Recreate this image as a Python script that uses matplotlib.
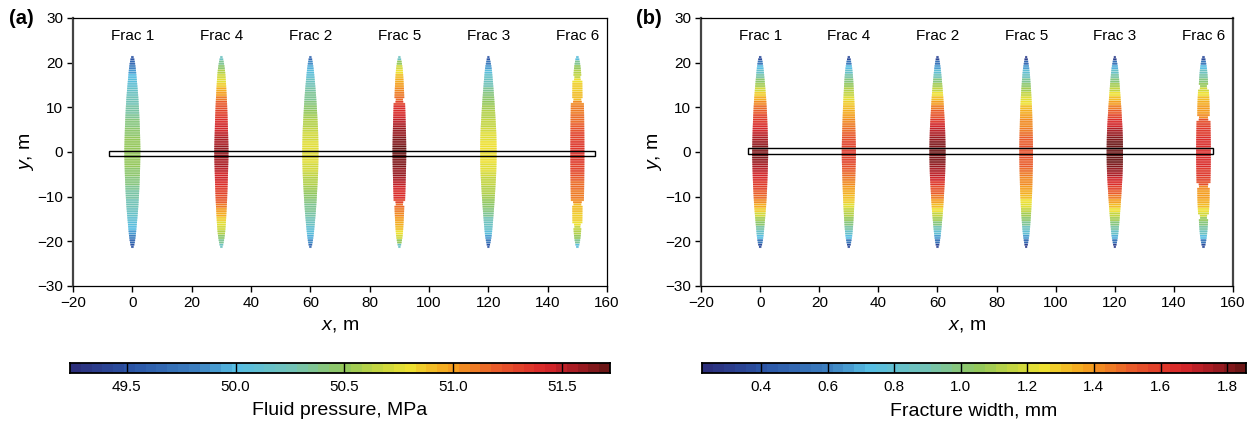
import numpy as np
import matplotlib
matplotlib.use("Agg")
import matplotlib.pyplot as plt
from matplotlib.colors import LinearSegmentedColormap, ListedColormap, Normalize
from matplotlib.patches import Rectangle

plt.rcParams['font.family'] = ['Liberation Sans', 'DejaVu Sans']
plt.rcParams['mathtext.fontset'] = 'custom'
plt.rcParams['mathtext.rm'] = 'Liberation Sans'
plt.rcParams['mathtext.it'] = 'Liberation Sans:italic'

# ---- data -------------------------------------------------------------
frac_names = ["Frac 1", "Frac 4", "Frac 2", "Frac 5", "Frac 3", "Frac 6"]
frac_x = [0, 30, 60, 90, 120, 150]
# distance from the wellbore (m); profiles are symmetric about y = 0
y_levels = list(range(22))

# fluid pressure along each fracture, MPa
pressure_f1 = [50.52, 50.52, 50.51, 50.49, 50.47, 50.45, 50.42, 50.39, 50.36, 50.33, 50.30,
               50.27, 50.24, 50.20, 50.16, 50.11, 50.06, 50.00, 49.92, 49.82, 49.67, 49.50]
pressure_f4 = [51.60, 51.58, 51.56, 51.53, 51.50, 51.47, 51.43, 51.39, 51.35, 51.30, 51.25,
               51.18, 51.10, 51.02, 50.94, 50.86, 50.77, 50.68, 50.58, 50.47, 50.35, 50.20]
pressure_f2 = [50.76, 50.75, 50.74, 50.72, 50.69, 50.66, 50.62, 50.58, 50.54, 50.50, 50.46,
               50.42, 50.38, 50.34, 50.30, 50.25, 50.19, 50.13, 50.06, 49.97, 49.84, 49.65]
pressure_f5 = [51.70, 51.69, 51.67, 51.64, 51.61, 51.58, 51.54, 51.50, 51.46, 51.42, 51.38,
               51.30, 51.15, 51.10, 51.06, 51.01, 50.95, 50.88, 50.80, 50.68, 50.50, 50.20]
pressure_f3 = [50.80, 50.80, 50.78, 50.76, 50.73, 50.70, 50.67, 50.64, 50.61, 50.58, 50.54,
               50.50, 50.45, 50.40, 50.34, 50.28, 50.21, 50.14, 50.05, 49.93, 49.76, 49.52]
pressure_f6 = [51.38, 51.37, 51.35, 51.32, 51.28, 51.24, 51.20, 51.17, 51.14, 51.11, 51.08,
               51.05, 50.92, 50.89, 50.86, 50.83, 50.80, 50.66, 50.60, 50.50, 50.35, 50.05]

# fracture aperture along each fracture, mm
width_f1 = [1.80, 1.80, 1.77, 1.75, 1.72, 1.69, 1.65, 1.61, 1.57, 1.52, 1.47,
            1.41, 1.35, 1.27, 1.19, 1.10, 1.01, 0.92, 0.83, 0.72, 0.58, 0.38]
width_f4 = [1.60, 1.59, 1.57, 1.54, 1.51, 1.48, 1.45, 1.42, 1.39, 1.35, 1.31,
            1.27, 1.22, 1.17, 1.11, 1.06, 1.00, 0.93, 0.84, 0.72, 0.56, 0.36]
width_f2 = [1.83, 1.82, 1.80, 1.78, 1.75, 1.72, 1.67, 1.62, 1.56, 1.50, 1.45,
            1.39, 1.32, 1.25, 1.17, 1.08, 0.99, 0.90, 0.80, 0.68, 0.54, 0.35]
width_f5 = [1.55, 1.54, 1.53, 1.51, 1.49, 1.46, 1.43, 1.41, 1.38, 1.35, 1.31,
            1.26, 1.21, 1.15, 1.09, 1.02, 0.95, 0.87, 0.78, 0.66, 0.50, 0.32]
width_f3 = [1.85, 1.84, 1.83, 1.81, 1.78, 1.74, 1.69, 1.63, 1.57, 1.51, 1.45,
            1.38, 1.31, 1.24, 1.16, 1.08, 1.00, 0.91, 0.82, 0.70, 0.52, 0.32]
width_f6 = [1.66, 1.66, 1.65, 1.64, 1.62, 1.60, 1.58, 1.56, 1.40, 1.39, 1.38,
            1.35, 1.31, 1.26, 1.20, 1.05, 1.00, 0.94, 0.85, 0.74, 0.58, 0.38]

# aperture of Frac 5 and Frac 6 at the pressure snapshot, mm
width_a_f5 = [1.55, 1.54, 1.53, 1.51, 1.49, 1.46, 1.43, 1.41, 1.38, 1.35, 1.31,
              1.28, 1.10, 1.07, 1.03, 0.98, 0.93, 0.87, 0.80, 0.70, 0.54, 0.34]
width_a_f6 = [1.58, 1.58, 1.57, 1.57, 1.56, 1.55, 1.54, 1.53, 1.52, 1.50, 1.48,
              1.46, 1.15, 1.14, 1.13, 1.12, 1.10, 0.88, 0.82, 0.72, 0.58, 0.38]

pressure = [pressure_f1, pressure_f4, pressure_f2, pressure_f5, pressure_f3, pressure_f6]
width = [width_f1, width_f4, width_f2, width_f5, width_f3, width_f6]
width_a = [width_f1, width_f4, width_f2, width_a_f5, width_f3, width_a_f6]

# element pinch-offs (fracture index -> |y| in m)
pinch_a = {3: [11.5], 5: [11.5, 16.5]}
pinch_b = {5: [7.5, 14.5]}

# horizontal wellbore outline (x0, x1, y0, y1) in m
well_a = (-7.8, 155.8, -0.9, 0.3)
well_b = (-4.2, 153.3, -0.5, 0.8)

pressure_range = (49.24, 51.72)
pressure_ticks = [49.5, 50.0, 50.5, 51.0, 51.5]
width_range = (0.223, 1.857)
width_ticks = [0.4, 0.6, 0.8, 1.0, 1.2, 1.4, 1.6, 1.8]

# ---- colour map -------------------------------------------------------
stops = [(0.000, "#2c2f7c"), (0.105, "#2b55a6"), (0.226, "#3c7fc0"),
         (0.306, "#56bde2"), (0.407, "#72c3b8"), (0.508, "#93c85c"),
         (0.569, "#c0d443"), (0.629, "#eee232"), (0.705, "#f5a41e"),
         (0.800, "#e8582a"), (0.890, "#d8262a"), (0.945, "#a81c24"),
         (1.000, "#6c1616")]
smooth = LinearSegmentedColormap.from_list("frac", stops)
NBANDS = 50
cmap = ListedColormap(smooth(np.linspace(0, 1, NBANDS)))

HALF_WIDTH_PER_MM = 1.5   # drawn half-opening (m) per mm of aperture

fig = plt.figure(figsize=(12.55, 4.30), dpi=100)

ax_a = fig.add_axes([0.0582, 0.3349, 0.4255, 0.6233])
ax_b = fig.add_axes([0.5586, 0.3349, 0.4239, 0.6233])


def draw_fractures(ax, values, apertures, pinches, norm):
    half = np.arange(0.25, 21.5, 0.5)
    ys = np.concatenate([-half[::-1], half])
    idx = np.clip(np.floor(np.abs(ys) + 0.5).astype(int), 0, len(y_levels) - 1)
    for k, xc in enumerate(frac_x):
        vals = np.asarray(values[k])[idx]
        # outline follows the aperture profile
        hw = HALF_WIDTH_PER_MM * np.interp(np.abs(ys), y_levels, apertures[k])
        hw[np.abs(ys) > 21] *= 0.7
        for yp in pinches.get(k, []):
            hw[np.abs(np.abs(ys) - yp) < 0.3] *= 0.7
        cols = cmap(norm(vals))
        ax.barh(ys, 2 * hw, left=xc - hw, height=0.5, color=cols, alpha=0.55,
                linewidth=0, zorder=2, snap=False)
        ax.hlines(ys, xc - hw, xc + hw, colors=cols, linewidth=1.0, zorder=3,
                  snap=False)


def style_axes(ax, well):
    ax.set_xlim(-20, 160)
    ax.set_ylim(-30, 30)
    ax.set_xticks(np.arange(-20, 161, 20))
    ax.set_yticks(np.arange(-30, 31, 10))
    ax.tick_params(direction='out', length=4, width=1, labelsize=11, pad=3)
    for s in ax.spines.values():
        s.set_linewidth(0.9)
        s.set_color('black')
    ax.spines['left'].set_linewidth(1.6)
    ax.spines['left'].set_color('#444444')
    ax.set_xlabel(r"$\it{x}$, m", fontsize=14, labelpad=5)
    ax.set_ylabel(r"$\it{y}$, m", fontsize=14, labelpad=1)
    x0, x1, y0, y1 = well
    ax.add_patch(Rectangle((x0, y0), x1 - x0, y1 - y0, fill=False,
                           edgecolor='black', linewidth=1.0, zorder=5))
    for name, xc in zip(frac_names, frac_x):
        ax.text(xc, 26, name, ha='center', va='center', fontsize=11, zorder=6)


norm_a = Normalize(*pressure_range)
norm_b = Normalize(*width_range)
draw_fractures(ax_a, pressure, width_a, pinch_a, norm_a)
draw_fractures(ax_b, width, width, pinch_b, norm_b)
style_axes(ax_a, well_a)
style_axes(ax_b, well_b)
ax_b.spines['right'].set_linewidth(1.6)
ax_b.spines['right'].set_color('#444444')

fig.text(0.007, 0.956, "(a)", fontsize=14.5, fontweight='bold', va='center')
fig.text(0.507, 0.956, "(b)", fontsize=14.5, fontweight='bold', va='center')


def draw_colorbar(rect, vrange, ticks, fmt, label):
    cax = fig.add_axes(rect)
    vmin, vmax = vrange
    edges = np.linspace(vmin, vmax, NBANDS + 1)
    centers = 0.5 * (edges[:-1] + edges[1:])
    cax.pcolormesh(edges, [0, 1], centers[None, :], cmap=cmap,
                   norm=Normalize(vmin, vmax), shading='flat')
    for t in ticks:
        cax.axvline(t, color='black', linewidth=1.0)
    cax.set_xlim(vmin, vmax)
    cax.set_ylim(0, 1)
    cax.set_yticks([])
    cax.set_xticks(ticks)
    cax.set_xticklabels([fmt.format(t) for t in ticks])
    cax.tick_params(length=0, labelsize=11, pad=5)
    for s in cax.spines.values():
        s.set_linewidth(1.3)
    cax.set_xlabel(label, fontsize=14, labelpad=6)


draw_colorbar([0.0558, 0.1326, 0.4303, 0.0233], pressure_range, pressure_ticks,
              "{:.1f}", "Fluid pressure, MPa")
draw_colorbar([0.5594, 0.1326, 0.4335, 0.0233], width_range, width_ticks,
              "{:.1f}", "Fracture width, mm")

fig.savefig("out.png", dpi=100)
